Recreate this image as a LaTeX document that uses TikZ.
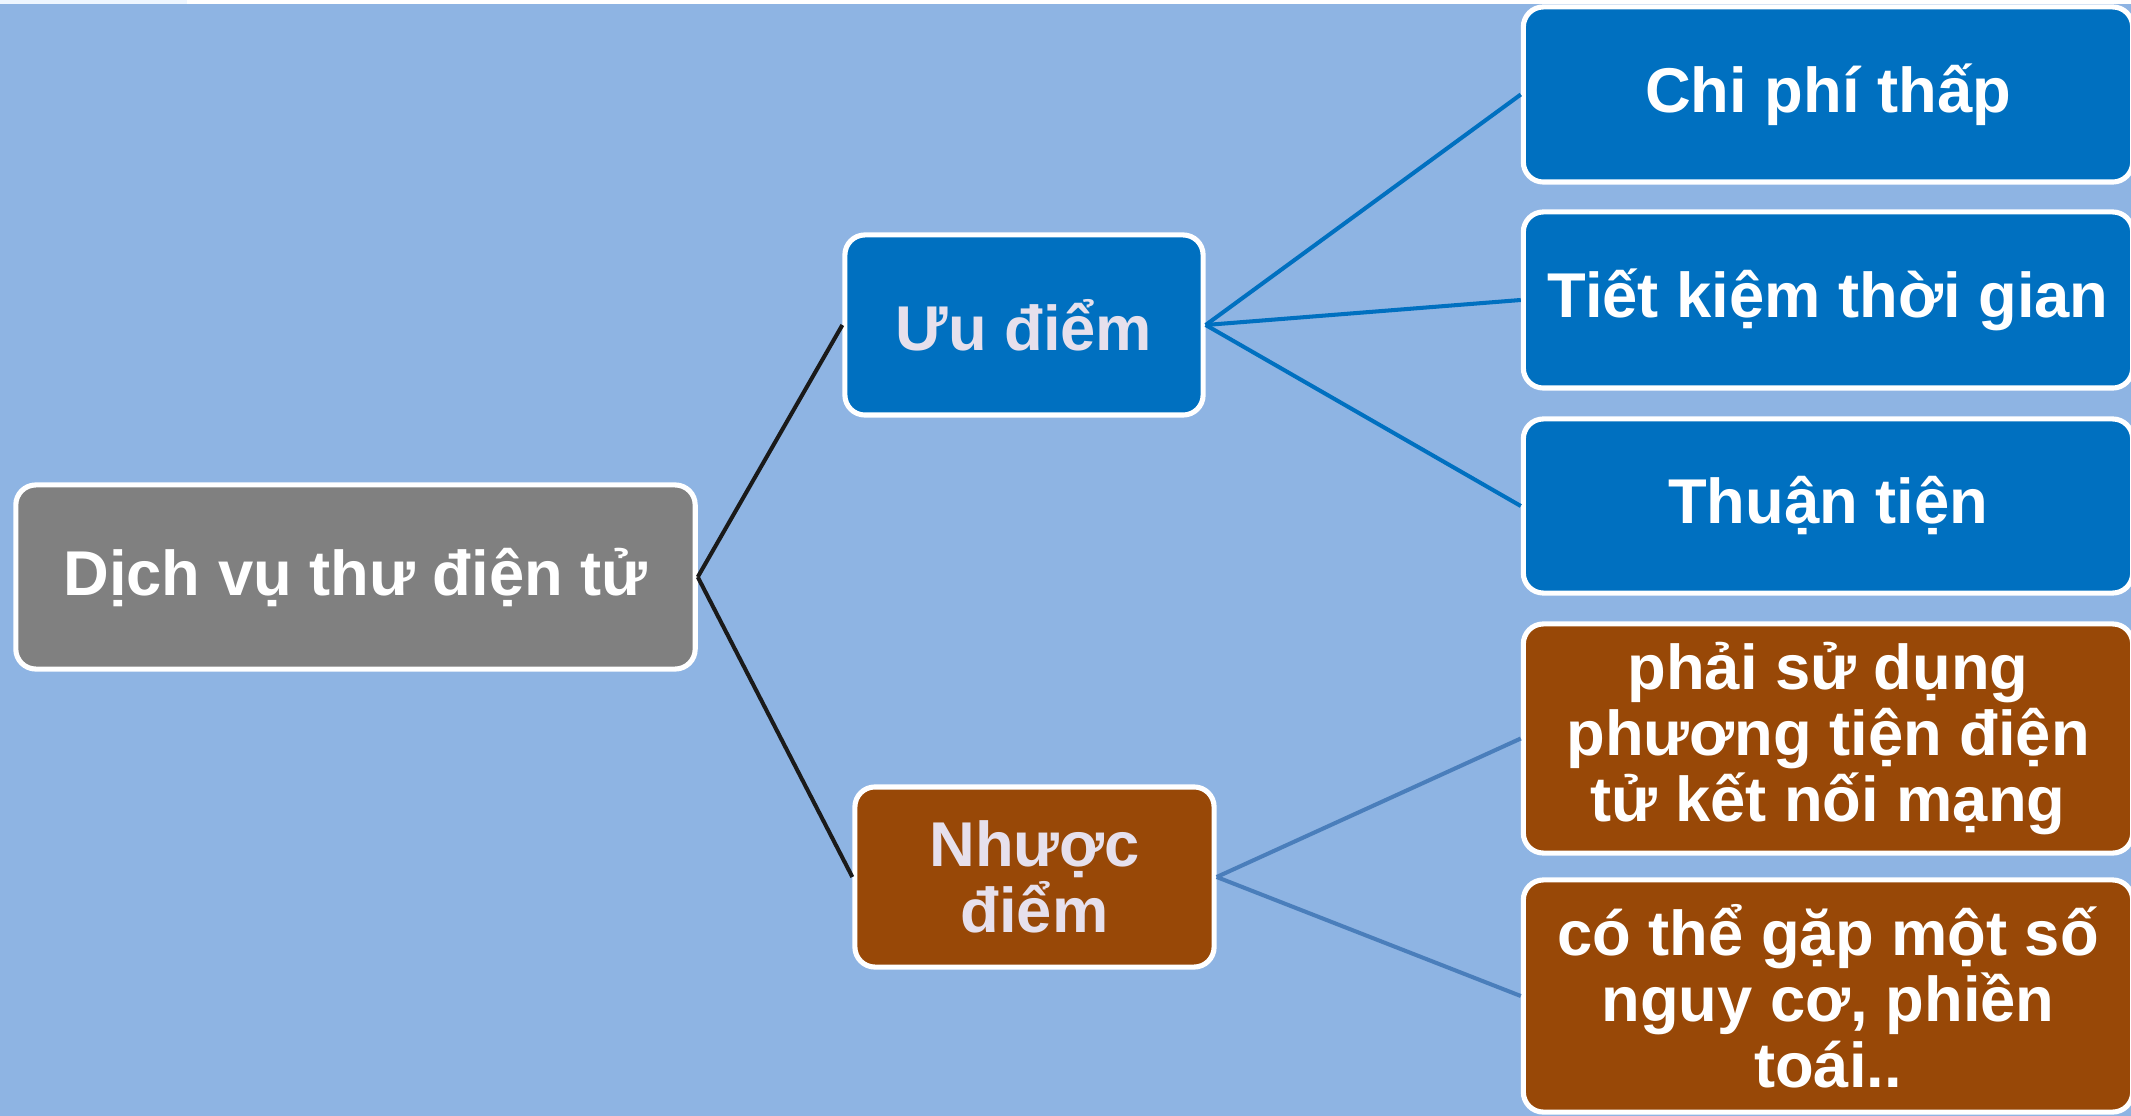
\documentclass[tikz,border=0pt]{standalone}
\usepackage{fontspec}
\setmainfont{Liberation Sans}
\definecolor{bgblue}{HTML}{8EB4E3}
\definecolor{boxblue}{HTML}{0070C0}
\definecolor{boxbrown}{HTML}{984807}
\definecolor{boxgray}{HTML}{808080}
\definecolor{lav}{HTML}{E6E0EC}
\definecolor{linesteel}{HTML}{4A7EBB}
\definecolor{lineblack}{HTML}{1A1A1A}
\definecolor{topstrip}{HTML}{EEF6FF}
\tikzset{
  box/.style={draw=white, line width=1.45pt, rounded corners=0.2cm, inner sep=0pt,
    align=center, font=\fontsize{18}{18.8}\selectfont\bfseries},
  rootbox/.style={box, fill=boxgray, text=white},
  midblue/.style={box, fill=boxblue, text=lav},
  midbrown/.style={box, fill=boxbrown, text=lav},
  leafblue/.style={box, fill=boxblue, text=white},
  leafbrown/.style={box, fill=boxbrown, text=white},
  conblack/.style={draw=lineblack, line width=1.15pt},
  conblue/.style={draw=boxblue, line width=1.15pt},
  consteel/.style={draw=linesteel, line width=1.15pt},
}
\begin{document}
\begin{tikzpicture}[x=0.01cm, y=-0.01cm]
\fill[bgblue] (0,0) rectangle (2131,1116);
\fill[white] (0,0) rectangle (2131,4);
\fill[topstrip] (0,0) rectangle (187,4);
\useasboundingbox (0,0) rectangle (2131,1116);

\node[rootbox, minimum width=6.79cm, minimum height=1.84cm] (root) at (355.5,577) {Dịch vụ thư điện tử};
\node[midblue, minimum width=3.58cm, minimum height=1.80cm] (uu) at (1024,325) {Ưu điểm};
\node[midbrown, minimum width=3.59cm, minimum height=1.80cm] (nhuoc) at (1034.5,877) {Nhược\\điểm};

\node[leafblue, minimum width=6.09cm, minimum height=1.75cm] (chi) at (1828,94.5) {Chi phí thấp};
\node[leafblue, minimum width=6.09cm, minimum height=1.76cm] (tiet) at (1828,300) {Tiết kiệm thời gian};
\node[leafblue, minimum width=6.09cm, minimum height=1.74cm] (thuan) at (1828,506) {Thuận tiện};
\node[leafbrown, minimum width=6.09cm, minimum height=2.29cm] (phai) at (1828,738.5) {phải sử dụng\\phương tiện điện\\tử kết nối mạng};
\node[leafbrown, minimum width=6.09cm, minimum height=2.32cm] (co) at (1828,996) {có thể gặp một số\\nguy cơ, phiền\\toái..};

\draw[conblack] (root.east) -- (uu.west);
\draw[conblack] (root.east) -- (nhuoc.west);
\draw[conblue] (uu.east) -- (chi.west);
\draw[conblue] (uu.east) -- (tiet.west);
\draw[conblue] (uu.east) -- (thuan.west);
\draw[consteel] (nhuoc.east) -- (phai.west);
\draw[consteel] (nhuoc.east) -- (co.west);
\end{tikzpicture}
\end{document}
